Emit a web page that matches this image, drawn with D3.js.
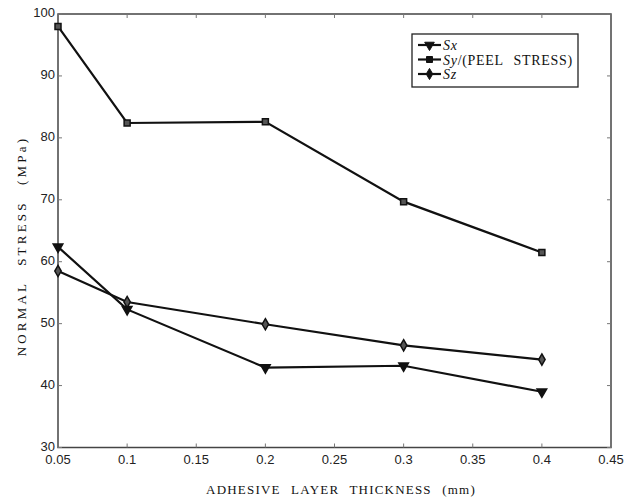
<!DOCTYPE html>
<html>
<head>
<meta charset="utf-8">
<script src="https://cdn.jsdelivr.net/npm/d3@7"></script>
<style>
  body { margin: 0; background: #fff; }
</style>
</head>
<body>
<div id="chart"></div>
<script>
const thickness = [0.05, 0.1, 0.2, 0.3, 0.4];
const sx = [62.4, 52.3, 42.9, 43.2, 39.0];
const sy = [98.0, 82.4, 82.6, 69.7, 61.5];
const sz = [58.5, 53.5, 49.9, 46.5, 44.2];
const xTicks = [0.05, 0.1, 0.15, 0.2, 0.25, 0.3, 0.35, 0.4, 0.45];
const yTicks = [30, 40, 50, 60, 70, 80, 90, 100];
const seriesNames = ["Sx", "Sy", "Sz"];

const width = 635, height = 497;
const padL = 58, padR = 611, padT = 14, padB = 447.5;

const svg = d3.select("#chart").append("svg")
  .attr("width", width).attr("height", height);

const x = d3.scaleLinear().domain([0.05, 0.45]).range([padL, padR]);
const y = d3.scaleLinear().domain([30, 100]).range([padB, padT]);

// frame
svg.append("rect")
  .attr("x", padL).attr("y", padT)
  .attr("width", padR - padL).attr("height", padB - padT)
  .attr("fill", "none").attr("stroke", "#444").attr("stroke-width", 1.5);

// ticks inside
const tickCol = "#777";
svg.selectAll(".xt").data(xTicks).enter().append("line")
  .attr("x1", d => x(d)).attr("x2", d => x(d))
  .attr("y1", padB).attr("y2", padB - 4)
  .attr("stroke", tickCol);
svg.selectAll(".xt2").data(xTicks).enter().append("line")
  .attr("x1", d => x(d)).attr("x2", d => x(d))
  .attr("y1", padT).attr("y2", padT + 4)
  .attr("stroke", tickCol);
svg.selectAll(".yt").data(yTicks).enter().append("line")
  .attr("x1", padL).attr("x2", padL + 4)
  .attr("y1", d => y(d)).attr("y2", d => y(d))
  .attr("stroke", tickCol);
svg.selectAll(".yt2").data(yTicks).enter().append("line")
  .attr("x1", padR).attr("x2", padR - 4)
  .attr("y1", d => y(d)).attr("y2", d => y(d))
  .attr("stroke", tickCol);

// tick labels
svg.selectAll(".xl").data(xTicks).enter().append("text")
  .attr("x", d => x(d)).attr("y", padB + 16)
  .attr("text-anchor", "middle")
  .attr("font-family", "Liberation Sans, Arial, sans-serif")
  .attr("font-size", 13).attr("fill", "#222")
  .text(d => d);
svg.selectAll(".yl").data(yTicks).enter().append("text")
  .attr("x", padL - 3).attr("y", d => y(d) + 3)
  .attr("text-anchor", "end")
  .attr("font-family", "Liberation Sans, Arial, sans-serif")
  .attr("font-size", 13).attr("fill", "#222")
  .text(d => d);

// axis titles
svg.append("text")
  .attr("x", 341).attr("y", 494)
  .attr("text-anchor", "middle")
  .attr("font-family", "Liberation Serif, Times New Roman, serif")
  .attr("font-size", 13).attr("letter-spacing", 1.2).attr("word-spacing", 6)
  .attr("fill", "#111")
  .text("ADHESIVE LAYER THICKNESS (mm)");
svg.append("text")
  .attr("transform", "translate(26,246)rotate(-90)")
  .attr("text-anchor", "middle")
  .attr("font-family", "Liberation Serif, Times New Roman, serif")
  .attr("font-size", 13).attr("letter-spacing", 3.2).attr("word-spacing", 9)
  .attr("fill", "#111")
  .text("NORMAL STRESS (MPa)");

const line = d3.line().x((d, i) => x(thickness[i])).y(d => y(d));
const sets = [sx, sy, sz];
const symbols = [d3.symbolTriangle, d3.symbolSquare, d3.symbolDiamond];
const rot = [180, 0, 0];
const sizes = [40, 36, 36];

sets.forEach((vals, k) => {
  svg.append("path").datum(vals)
    .attr("d", line)
    .attr("fill", "none").attr("stroke", "#111").attr("stroke-width", 2.2);
  svg.selectAll(".m" + k).data(vals).enter().append("path")
    .attr("d", d3.symbol().type(symbols[k]).size(sizes[k]))
    .attr("transform", (d, i) => "translate(" + x(thickness[i]) + "," + y(d) + ")rotate(" + rot[k] + ")")
    .attr("fill", k === 0 ? "#111" : "#555")
    .attr("stroke", "#111").attr("stroke-width", 1.5);
});

// legend
const lg = svg.append("g").attr("transform", "translate(412,34)");
lg.append("rect").attr("width", 166).attr("height", 53)
  .attr("fill", "#fff").attr("stroke", "#222").attr("stroke-width", 1.3);
const labels = [
  [["S", true], ["x", true]],
  [["S", true], ["y", true], ["/(PEEL STRESS)", false]],
  [["S", true], ["z", true]]
];
seriesNames.forEach((n, k) => {
  const ly = 11 + k * 14.5;
  lg.append("line").attr("x1", 6).attr("x2", 29).attr("y1", ly).attr("y2", ly)
    .attr("stroke", "#111").attr("stroke-width", 2.2);
  lg.append("path")
    .attr("d", d3.symbol().type(symbols[k]).size(sizes[k]))
    .attr("transform", "translate(17.5," + ly + ")rotate(" + rot[k] + ")")
    .attr("fill", "#111").attr("stroke", "#111");
  const t = lg.append("text").attr("x", 31).attr("y", ly + 5)
    .attr("font-family", "Liberation Serif, Times New Roman, serif")
    .attr("font-size", 14).attr("fill", "#111")
    .attr("letter-spacing", 0.7).attr("word-spacing", 6);
  labels[k].forEach(p => {
    t.append("tspan").attr("font-style", p[1] ? "italic" : "normal").text(p[0]);
  });
});
</script>
</body>
</html>
